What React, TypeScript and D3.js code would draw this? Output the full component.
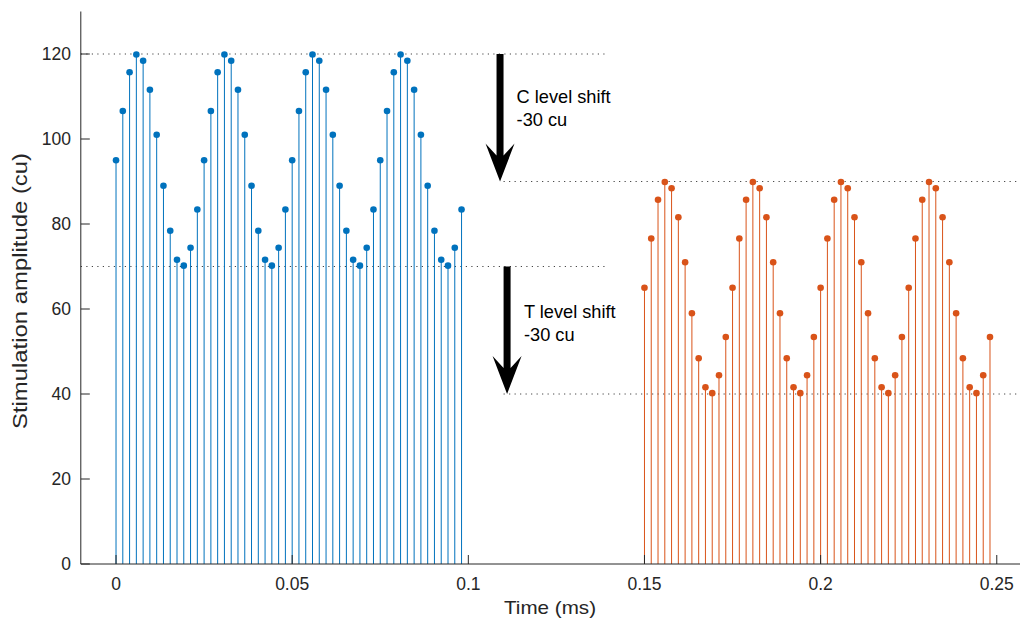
import React from 'react';
import * as d3 from 'd3';

// 13 samples per stimulation cycle, four cycles per burst
const BLUE_VALUES = [
  95.0, 106.6, 115.7, 119.9, 118.4, 111.6, 101.0, 89.0, 78.4, 71.6, 70.2, 74.4, 83.4,
  95.0, 106.6, 115.7, 119.9, 118.4, 111.6, 101.0, 89.0, 78.4, 71.6, 70.2, 74.4, 83.4,
  95.0, 106.6, 115.7, 119.9, 118.4, 111.6, 101.0, 89.0, 78.4, 71.6, 70.2, 74.4, 83.4,
  95.0, 106.6, 115.7, 119.9, 118.4, 111.6, 101.0, 89.0, 78.4, 71.6, 70.2, 74.4, 83.4,
];
const ORANGE_VALUES = [
  65.0, 76.6, 85.7, 89.9, 88.4, 81.6, 71.0, 59.0, 48.4, 41.6, 40.2, 44.4, 53.4,
  65.0, 76.6, 85.7, 89.9, 88.4, 81.6, 71.0, 59.0, 48.4, 41.6, 40.2, 44.4, 53.4,
  65.0, 76.6, 85.7, 89.9, 88.4, 81.6, 71.0, 59.0, 48.4, 41.6, 40.2, 44.4, 53.4,
  65.0, 76.6, 85.7, 89.9, 88.4, 81.6, 71.0, 59.0, 48.4, 41.6, 40.2, 44.4, 53.4,
];
const BLUE_START = 0;
const ORANGE_START = 0.15;
const SAMPLE_STEP = 0.05 / 26; // ms between samples

const X_TICKS = [0, 0.05, 0.1, 0.15, 0.2, 0.25];
const Y_TICKS = [0, 20, 40, 60, 80, 100, 120];

// dotted reference levels: [value, t from, t to]
const LEVELS = [
  [120, -0.01, 0.1395],
  [70, -0.01, 0.1395],
  [90, 0.11, 0.26],
  [40, 0.11, 0.26],
];

const ARROWS = [
  { t: 0.109, from: 120, to: 90, lines: ['C level shift', '-30 cu'], textT: 0.1137, textV: 108.5 },
  { t: 0.111, from: 70, to: 40, lines: ['T level shift', '-30 cu'], textT: 0.1158, textV: 58 },
];

const BLUE = '#0072BD';
const ORANGE = '#D95319';
const AXIS = '#262626';
const FONT = '"Liberation Sans", Arial, Helvetica, sans-serif';

const W = 1020;
const H = 620;

const x = d3.scaleLinear().domain([-0.01, 0.26]).range([80.8, 1032]);
const y = d3.scaleLinear().domain([0, 130]).range([564, 11.5]);

function arrowPath(cx: number, y0: number, y1: number) {
  const shaft = 3.5;
  const wing = 14.5;
  const headLen = 38;
  const notch = 26;
  return [
    [cx - shaft, y0],
    [cx + shaft, y0],
    [cx + shaft, y1 - notch],
    [cx + wing, y1 - headLen],
    [cx, y1],
    [cx - wing, y1 - headLen],
    [cx - shaft, y1 - notch],
  ].map((p, i) => (i === 0 ? 'M' : 'L') + p[0] + ',' + p[1]).join('') + 'Z';
}

const Stems = ({ values, start, color }: { values: number[]; start: number; color: string }) => (
  <g>
    {values.map((v, i) => {
      const cx = x(start + i * SAMPLE_STEP);
      return (
        <g key={i}>
          <line x1={cx} x2={cx} y1={y(0)} y2={y(v)} stroke={color} strokeWidth={1} />
          <circle cx={cx} cy={y(v)} r={3.3} fill={color} />
        </g>
      );
    })}
  </g>
);

export default function App() {
  const x0 = x.range()[0];
  return (
    <svg width={W} height={H} style={{ position: 'absolute', left: 0, top: 0, background: '#fff' }} fontFamily={FONT}>
      <rect width={W} height={H} fill="#fff" />

      {/* reference levels */}
      {LEVELS.map(([v, t0, t1], i) => (
        <line key={i} x1={x(t0)} x2={x(t1)} y1={y(v)} y2={y(v)}
          stroke="#444" strokeWidth={1} strokeDasharray="1.2 4.3" />
      ))}

      <Stems values={BLUE_VALUES} start={BLUE_START} color={BLUE} />
      <Stems values={ORANGE_VALUES} start={ORANGE_START} color={ORANGE} />

      {/* axes */}
      <line x1={x0} x2={W} y1={y(0)} y2={y(0)} stroke={AXIS} strokeWidth={1} />
      <line x1={x0} x2={x0} y1={y.range()[1]} y2={y(0)} stroke={AXIS} strokeWidth={1} />
      {X_TICKS.map(t => (
        <g key={t}>
          <line x1={x(t)} x2={x(t)} y1={y(0)} y2={y(0) - 9} stroke={AXIS} />
          <text x={x(t)} y={590} textAnchor="middle" fontSize={17.5} fill={AXIS}>{t}</text>
        </g>
      ))}
      {Y_TICKS.map(v => (
        <g key={v}>
          <line x1={x0} x2={x0 + 9} y1={y(v)} y2={y(v)} stroke={AXIS} />
          <text x={71} y={y(v) + 6} textAnchor="end" fontSize={17.5} fill={AXIS}>{v}</text>
        </g>
      ))}
      <text x={550} y={614} textAnchor="middle" fontSize={19} textLength={92} lengthAdjust="spacingAndGlyphs" fill={AXIS}>
        Time (ms)
      </text>
      <text transform={`translate(27,291) rotate(-90)`} textAnchor="middle" fontSize={20}
        textLength={276} lengthAdjust="spacingAndGlyphs" fill={AXIS}>
        Stimulation amplitude (cu)
      </text>

      {/* level shift arrows */}
      {ARROWS.map((a, i) => (
        <g key={i}>
          <path d={arrowPath(x(a.t), y(a.from), y(a.to))} fill="#000" />
          {a.lines.map((s, j) => (
            <text key={j} x={x(a.textT)} y={y(a.textV) + j * 23.5} fontSize={18.2} fill="#000">{s}</text>
          ))}
        </g>
      ))}
    </svg>
  );
}
